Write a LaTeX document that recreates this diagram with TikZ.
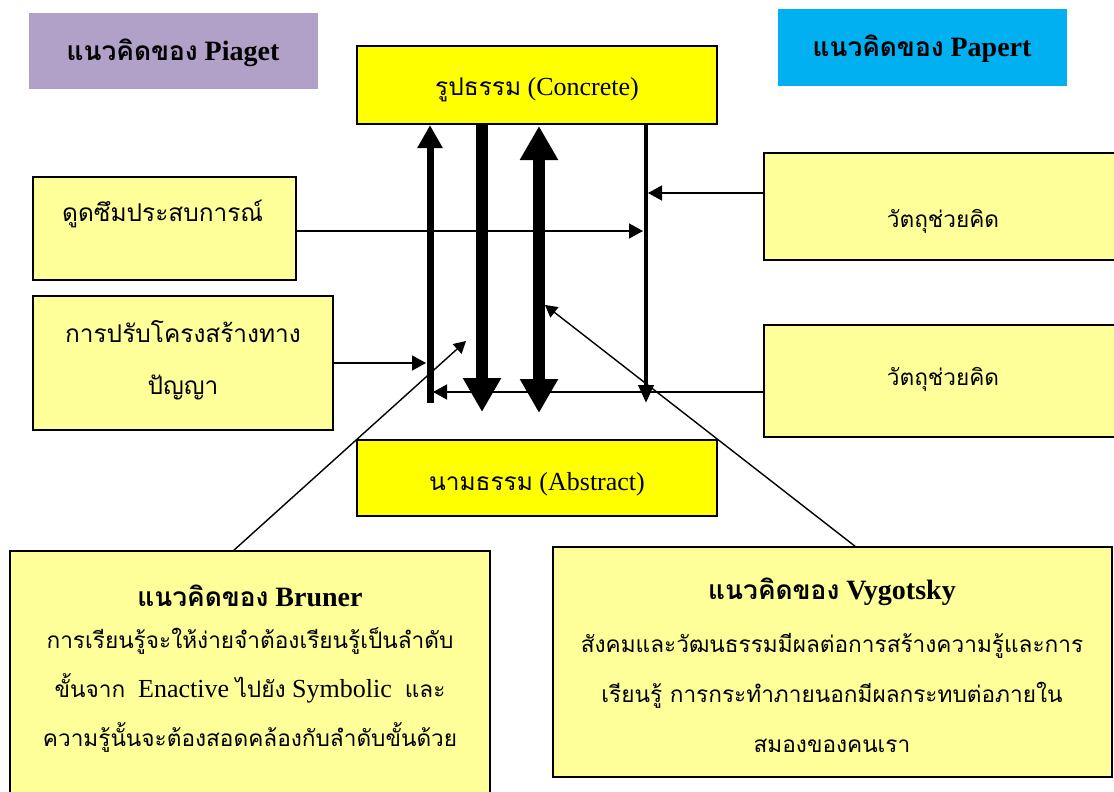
\documentclass[tikz,border=0pt]{standalone}
\usepackage{fontspec}
\setmainfont{Liberation Serif}
\newfontfamily\thaifont[Script=Thai,Scale=0.87]{Loma}
\newfontfamily\thaihead[Script=Thai,Scale=0.94]{Loma}
\newcommand\tht[1]{{\thaifont #1}}
\newcommand\thh[1]{{\thaihead #1}}
\usetikzlibrary{arrows.meta}
\definecolor{lavender}{HTML}{B1A0C7}
\definecolor{skyblue}{HTML}{00B0F0}
\definecolor{keyyellow}{HTML}{FFFF00}
\definecolor{pale}{HTML}{FFFF99}
\begin{document}
\begin{tikzpicture}[x=1pt,y=-1pt,
  box/.style={draw=black, line width=1.5pt, fill=pale, inner sep=0pt},
  keybox/.style={draw=black, line width=2.2pt, fill=keyyellow, inner sep=0pt},
  tag/.style={inner sep=0pt},
  txt/.style={inner sep=0pt, align=center, font=\fontsize{26}{30}\selectfont},
  ttl/.style={inner sep=0pt, font=\fontsize{28}{32}\selectfont\bfseries},
  thinarrow/.style={line width=1.4pt, -{Triangle[length=14pt,width=15pt]}},
  slimarrow/.style={line width=1.4pt, -{Triangle[length=12pt,width=13pt]}},
]
\useasboundingbox (0,0) rectangle (1114,792);
\fill[white] (0,0) rectangle (1114,792);

% heading tags
\node[tag, fill=lavender, minimum width=289pt, minimum height=76pt] (piaget) at (173.5,51) {};
\node[ttl] (piagetT) at (173,53) {\thh{แนวคิดของ} Piaget};
\node[tag, fill=skyblue, minimum width=289pt, minimum height=77pt] (papert) at (922.5,47.5) {};
\node[ttl] (papertT) at (922,49) {\thh{แนวคิดของ} Papert};

% concrete / abstract
\node[keybox, minimum width=360pt, minimum height=78pt] (concrete) at (537,85) {};
\node[txt] (concreteT) at (537,90) {\thh{รูปธรรม} (Concrete)};
\node[keybox, minimum width=360pt, minimum height=76pt] (abstract) at (537,478) {};
\node[txt] (abstractT) at (537,484) {\thh{นามธรรม} (Abstract)};

% side boxes
\node[box, minimum width=263pt, minimum height=103pt] (absorb) at (164.5,228.5) {};
\node[txt, anchor=west] (absorbT) at (62,214) {\thh{ดูดซึมประสบการณ์}};
\node[box, minimum width=300pt, minimum height=134pt] (restruct) at (183,363) {};
\node[txt, font=\fontsize{26}{52}\selectfont] (restructT) at (183,360) {\thh{การปรับโครงสร้างทาง}\\\thh{ปัญญา}};
\node[box, minimum width=352pt, minimum height=107pt] (tool1) at (940,206.5) {};
\node[txt] (tool1T) at (943,221) {\tht{วัตถุช่วยคิด}};
\node[box, minimum width=352pt, minimum height=112pt] (tool2) at (940,381) {};
\node[txt] (tool2T) at (943,379) {\tht{วัตถุช่วยคิด}};

% theory boxes
\node[box, minimum width=480pt, minimum height=249pt] (bruner) at (250,675.5) {};
\node[ttl] (brunerT) at (250,596) {\thh{แนวคิดของ} Bruner};
\node[txt, font=\fontsize{26}{49}\selectfont] (brunerB) at (250,690)
  {\tht{การเรียนรู้จะให้ง่ายจำต้องเรียนรู้เป็นลำดับ}\\
   \tht{ขั้นจาก}\ \ Enactive \tht{ไปยัง} Symbolic\ \ \tht{และ}\\
   \tht{ความรู้นั้นจะต้องสอดคล้องกับลำดับขั้นด้วย}};
\node[box, minimum width=559pt, minimum height=230pt] (vygotsky) at (832.5,662) {};
\node[ttl] (vygotskyT) at (832,592) {\thh{แนวคิดของ} Vygotsky};
\node[txt, font=\fontsize{26}{50}\selectfont] (vygotskyB) at (832,693)
  {\tht{สังคมและวัฒนธรรมมีผลต่อการสร้างความรู้และการ}\\
   \tht{เรียนรู้ การกระทำภายนอกมีผลกระทบต่อภายใน}\\
   \tht{สมองของคนเรา}};

% vertical links between concrete and abstract
\coordinate (upfoot) at (430,403);
\draw[line width=7pt, -{Triangle[length=23pt,width=24pt]}] (upfoot) -- (upfoot |- concrete.south);
\coordinate (downtip) at (482,412);
\draw[line width=12pt, -{Triangle[length=34pt,width=36pt]}] (downtip |- concrete.south) -- (downtip);
\coordinate (bothtip) at (539,413);
\draw[line width=12pt, {Triangle[length=34pt,width=36pt]}-{Triangle[length=34pt,width=36pt]}] (539,126) -- (bothtip);
\coordinate (railtip) at (646,403);
\draw[line width=4pt, -{Triangle[length=18pt,width=15pt]}] (railtip |- concrete.south) -- (railtip);

% horizontal feeds
\coordinate (absorbIn) at (643,231);
\draw[thinarrow] (absorb.east |- absorbIn) -- (absorbIn);
\coordinate (tool1In) at (648,193);
\draw[thinarrow] (tool1.west |- tool1In) -- (tool1In);
\coordinate (restructIn) at (426,363);
\draw[thinarrow] (restruct.east |- restructIn) -- (restructIn);
\coordinate (tool2In) at (433,392);
\draw[thinarrow] (tool2.west |- tool2In) -- (tool2In);

% diagonal links from the theory boxes
\coordinate (brunerOut) at (233,551);
\coordinate (brunerIn) at (466,341);
\draw[slimarrow] (brunerOut) -- (brunerIn);
\coordinate (vygOut) at (856,547);
\coordinate (vygIn) at (545,305);
\draw[slimarrow] (vygOut) -- (vygIn);
\end{tikzpicture}
\end{document}
